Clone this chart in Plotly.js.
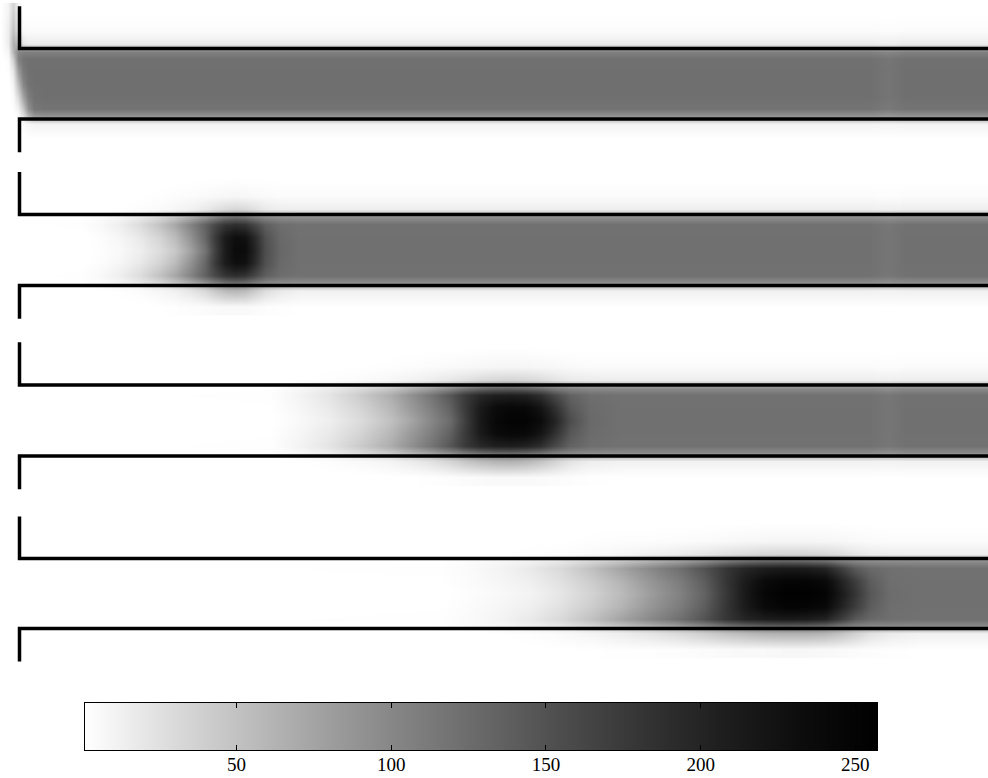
<!DOCTYPE html>
<html>
<head>
<meta charset="utf-8">
<script src="https://cdn.plot.ly/plotly-3.0.1.min.js"></script>
<style>html,body{margin:0;padding:0;background:#fff;}#chart{width:988px;height:778px;}</style>
</head>
<body>
<div id="chart"></div>
<script>
// ---- Data (concentration values; rows from top to bottom) ----
// cross-channel sample positions (channel units: 0 = lower wall, 1 = upper wall)
var rowY = [1.55, 1.25, 1.07, 0.96, 0.86, 0.68, 0.5, 0.32, 0.14, 0.04, -0.07, -0.3];

// Panel 1
var x1 = [0, 8, 13, 18, 23, 28, 34, 44, 200, 500, 870, 888, 905, 988];
var z1 = [
  [0, 10, 35, 10, 0, 0, 0, 0, 0, 0, 0, 0, 0, 0],
  [0, 14, 50, 25, 5, 4, 4, 4, 4, 4, 4, 3, 4, 4],
  [0, 14, 65, 60, 22, 16, 15, 15, 15, 15, 15, 13, 15, 15],
  [0, 8, 60, 100, 105, 105, 105, 105, 105, 105, 105, 101, 105, 105],
  [0, 4, 40, 105, 118, 121, 121, 121, 121, 121, 121, 116, 121, 121],
  [0, 2, 20, 80, 112, 121, 122, 122, 122, 122, 122, 117, 122, 122],
  [0, 0, 10, 55, 100, 118, 122, 122, 122, 122, 122, 117, 122, 122],
  [0, 0, 5, 30, 75, 108, 120, 122, 122, 122, 122, 117, 122, 122],
  [0, 0, 2, 12, 45, 90, 115, 118, 118, 118, 118, 113, 118, 118],
  [0, 0, 0, 5, 25, 60, 85, 90, 90, 90, 90, 86, 90, 90],
  [0, 0, 0, 0, 4, 8, 10, 10, 10, 10, 10, 9, 10, 10],
  [0, 0, 0, 0, 0, 0, 0, 0, 0, 0, 0, 0, 0, 0]
];

// Panel 2
var x2 = [0, 80, 100, 120, 140, 160, 175, 190, 205, 215, 225, 235, 245, 255, 265, 280, 300, 500, 870, 888, 905, 988];
var z2 = [
  [0, 0, 0, 0, 0, 0, 0, 0, 0, 0, 0, 0, 0, 0, 0, 0, 0, 0, 0, 0, 0, 0],
  [0, 0, 0, 0, 1, 2, 3, 4, 5, 6, 7, 8, 7, 6, 5, 4, 4, 4, 4, 3, 4, 4],
  [0, 0, 0, 1, 3, 5, 8, 12, 18, 24, 30, 33, 31, 25, 18, 15, 14, 14, 14, 13, 14, 14],
  [0, 1, 4, 9, 18, 32, 48, 68, 90, 108, 122, 128, 125, 112, 102, 96, 95, 95, 95, 91, 95, 95],
  [0, 2, 6, 14, 28, 50, 72, 102, 135, 160, 180, 188, 182, 160, 138, 124, 120, 120, 120, 115, 120, 120],
  [0, 0, 3, 8, 18, 35, 55, 88, 130, 175, 212, 230, 226, 192, 152, 128, 121, 121, 121, 116, 121, 121],
  [0, 0, 2, 6, 14, 28, 45, 75, 118, 168, 212, 236, 234, 198, 155, 130, 121, 121, 121, 116, 121, 121],
  [0, 0, 3, 8, 18, 35, 55, 88, 130, 175, 212, 230, 226, 192, 152, 128, 121, 121, 121, 116, 121, 121],
  [0, 2, 6, 14, 28, 50, 72, 102, 135, 160, 180, 188, 182, 160, 138, 124, 120, 120, 120, 115, 120, 120],
  [0, 1, 4, 9, 18, 32, 48, 68, 90, 108, 122, 128, 125, 112, 102, 96, 95, 95, 95, 91, 95, 95],
  [0, 0, 1, 2, 4, 8, 12, 20, 32, 45, 56, 60, 56, 42, 28, 18, 12, 12, 12, 11, 12, 12],
  [0, 0, 0, 0, 0, 1, 2, 3, 4, 5, 6, 6, 6, 4, 3, 2, 1, 1, 1, 1, 1, 1]
];

// Panel 3
var x3 = [0, 270, 300, 330, 360, 390, 410, 430, 450, 465, 480, 495, 510, 525, 540, 555, 570, 590, 620, 870, 888, 905, 988];
var z3 = [
  [0, 0, 0, 0, 0, 0, 0, 0, 0, 0, 0, 0, 0, 0, 0, 0, 0, 0, 0, 0, 0, 0, 0],
  [0, 0, 0, 1, 1, 2, 3, 4, 5, 6, 7, 8, 8, 8, 7, 6, 5, 4, 4, 4, 3, 4, 4],
  [0, 0, 1, 2, 4, 7, 10, 14, 19, 24, 29, 32, 34, 32, 28, 22, 17, 15, 14, 14, 13, 14, 14],
  [0, 1, 7, 15, 28, 44, 60, 76, 95, 112, 124, 130, 132, 128, 120, 108, 100, 96, 95, 95, 91, 95, 95],
  [0, 2, 10, 22, 42, 66, 90, 115, 145, 175, 195, 205, 207, 203, 188, 158, 134, 123, 120, 120, 115, 120, 120],
  [0, 1, 8, 18, 34, 58, 82, 106, 135, 175, 212, 235, 242, 240, 222, 185, 145, 126, 121, 121, 116, 121, 121],
  [0, 0, 6, 14, 28, 50, 72, 98, 125, 170, 215, 240, 250, 250, 235, 200, 155, 128, 121, 121, 116, 121, 121],
  [0, 1, 8, 18, 34, 58, 82, 106, 135, 175, 212, 235, 242, 240, 222, 185, 145, 126, 121, 121, 116, 121, 121],
  [0, 2, 10, 22, 42, 66, 90, 115, 145, 175, 195, 205, 207, 203, 188, 158, 134, 123, 120, 120, 115, 120, 120],
  [0, 1, 7, 15, 28, 44, 60, 76, 95, 112, 124, 130, 132, 128, 120, 108, 100, 96, 95, 95, 91, 95, 95],
  [0, 0, 1, 3, 6, 10, 16, 24, 35, 47, 56, 62, 64, 60, 50, 36, 23, 15, 12, 12, 11, 12, 12],
  [0, 0, 0, 0, 0, 1, 1, 2, 3, 4, 5, 6, 6, 6, 5, 4, 3, 2, 1, 1, 1, 1, 1]
];

// Panel 4
var x4 = [0, 440, 470, 500, 530, 560, 590, 620, 650, 680, 705, 725, 745, 765, 785, 805, 825, 840, 855, 870, 890, 920, 988];
var z4 = [
  [0, 0, 0, 0, 0, 0, 0, 0, 0, 0, 0, 0, 0, 0, 0, 0, 0, 0, 0, 0, 0, 0, 0],
  [0, 0, 0, 0, 1, 1, 2, 3, 3, 4, 5, 6, 7, 8, 8, 8, 8, 7, 6, 5, 4, 4, 4],
  [0, 0, 0, 1, 2, 3, 5, 8, 12, 16, 21, 26, 30, 33, 34, 34, 32, 27, 21, 17, 15, 14, 14],
  [0, 1, 4, 7, 12, 20, 33, 48, 64, 80, 98, 115, 126, 132, 134, 132, 126, 112, 102, 97, 96, 95, 95],
  [0, 2, 5, 10, 18, 30, 50, 74, 98, 122, 150, 178, 198, 208, 212, 210, 200, 172, 142, 128, 122, 120, 120],
  [0, 1, 4, 8, 13, 24, 40, 60, 86, 110, 140, 178, 212, 238, 248, 248, 240, 205, 172, 140, 123, 121, 121],
  [0, 0, 3, 6, 10, 20, 35, 55, 80, 105, 135, 175, 215, 245, 255, 255, 250, 215, 180, 145, 125, 121, 121],
  [0, 1, 4, 8, 13, 24, 40, 60, 86, 110, 140, 178, 212, 238, 248, 248, 240, 205, 172, 140, 123, 121, 121],
  [0, 2, 5, 10, 18, 30, 50, 74, 98, 122, 150, 178, 198, 208, 212, 210, 200, 172, 142, 128, 122, 120, 120],
  [0, 1, 4, 7, 12, 20, 33, 48, 64, 80, 98, 115, 126, 132, 134, 132, 126, 112, 102, 97, 96, 95, 95],
  [0, 0, 0, 1, 3, 5, 9, 14, 21, 30, 40, 49, 56, 62, 64, 64, 60, 50, 37, 24, 16, 12, 12],
  [0, 0, 0, 0, 0, 1, 1, 2, 2, 3, 4, 5, 6, 6, 7, 7, 6, 5, 4, 3, 2, 1, 1]
];

// Channel geometry (wall outlines)
var wallTopX = [19.5, 19.5, 988];
var wallTopY = [1.6, 1, 1];
var wallBotX = [19.5, 19.5, 988];
var wallBotY = [-0.47, 0, 0];

// Colour bar: value range ends and tick labels
var cbRange = [1, 257];
var cbTicks = [50, 100, 150, 200, 250];

// ---- Styling ----
var grayScale = [
  [0.0, 'rgb(255,255,255)'], [0.1, 'rgb(222,222,222)'], [0.2, 'rgb(191,191,191)'],
  [0.3, 'rgb(160,160,160)'], [0.4, 'rgb(131,131,131)'], [0.5, 'rgb(104,104,104)'],
  [0.6, 'rgb(77,77,77)'], [0.7, 'rgb(53,53,53)'], [0.8, 'rgb(31,31,31)'],
  [0.9, 'rgb(13,13,13)'], [1.0, 'rgb(0,0,0)']
];
var panels = [
  {x: x1, z: z1, ya: 'y',  dom: [0.8017, 0.9965]},
  {x: x2, z: z2, ya: 'y2', dom: [0.5874, 0.7836]},
  {x: x3, z: z3, ya: 'y3', dom: [0.3683, 0.5645]},
  {x: x4, z: z4, ya: 'y4', dom: [0.1472, 0.3406]}
];

var traces = [];
var layout = {
  width: 988, height: 778,
  margin: {l: 0, r: 0, t: 0, b: 0},
  paper_bgcolor: '#ffffff', plot_bgcolor: '#ffffff',
  showlegend: false,
  xaxis: {range: [0, 988], domain: [0, 1], visible: false, fixedrange: true}
};

panels.forEach(function (p, i) {
  traces.push({
    type: 'heatmap', x: p.x, y: rowY, z: p.z,
    xaxis: 'x', yaxis: p.ya,
    zmin: cbRange[0], zmax: cbRange[1], zsmooth: 'best',
    colorscale: grayScale, showscale: false, hoverinfo: 'skip'
  });
  traces.push({
    type: 'scatter', mode: 'lines', x: wallTopX, y: wallTopY,
    xaxis: 'x', yaxis: p.ya, hoverinfo: 'skip',
    line: {color: '#000', width: 3.5}
  });
  traces.push({
    type: 'scatter', mode: 'lines', x: wallBotX, y: wallBotY,
    xaxis: 'x', yaxis: p.ya, hoverinfo: 'skip',
    line: {color: '#000', width: 3.5}
  });
  var key = i === 0 ? 'yaxis' : 'yaxis' + (i + 1);
  layout[key] = {range: [-0.5, 1.65], domain: p.dom, visible: false, fixedrange: true, anchor: 'x'};
});

// Colour bar drawn as its own axis pair (ticks on both edges, like the original)
traces.push({
  type: 'heatmap', x: cbRange, y: [0], z: [cbRange],
  xaxis: 'x2', yaxis: 'y5', zmin: cbRange[0], zmax: cbRange[1],
  zsmooth: 'best', colorscale: grayScale, showscale: false, hoverinfo: 'skip'
});
layout.xaxis2 = {
  domain: [85 / 988, 877 / 988], range: cbRange, anchor: 'y5', fixedrange: true,
  showline: true, linecolor: '#000', linewidth: 1, mirror: 'ticks',
  showgrid: false, zeroline: false,
  tickmode: 'array', tickvals: cbTicks, ticktext: cbTicks.map(String),
  ticks: 'inside', ticklen: 5, tickwidth: 1, tickcolor: '#000',
  ticklabelstandoff: -3,
  tickfont: {family: 'Liberation Serif, Times New Roman, serif', size: 19, color: '#000'}
};
layout.yaxis5 = {
  domain: [1 - 750 / 778, 1 - 703 / 778], range: [-0.5, 0.5], anchor: 'x2', fixedrange: true,
  showline: true, linecolor: '#000', linewidth: 1, mirror: true,
  showgrid: false, zeroline: false, ticks: '', showticklabels: false
};

Plotly.newPlot('chart', traces, layout, {staticPlot: true, displayModeBar: false});
</script>
</body>
</html>
